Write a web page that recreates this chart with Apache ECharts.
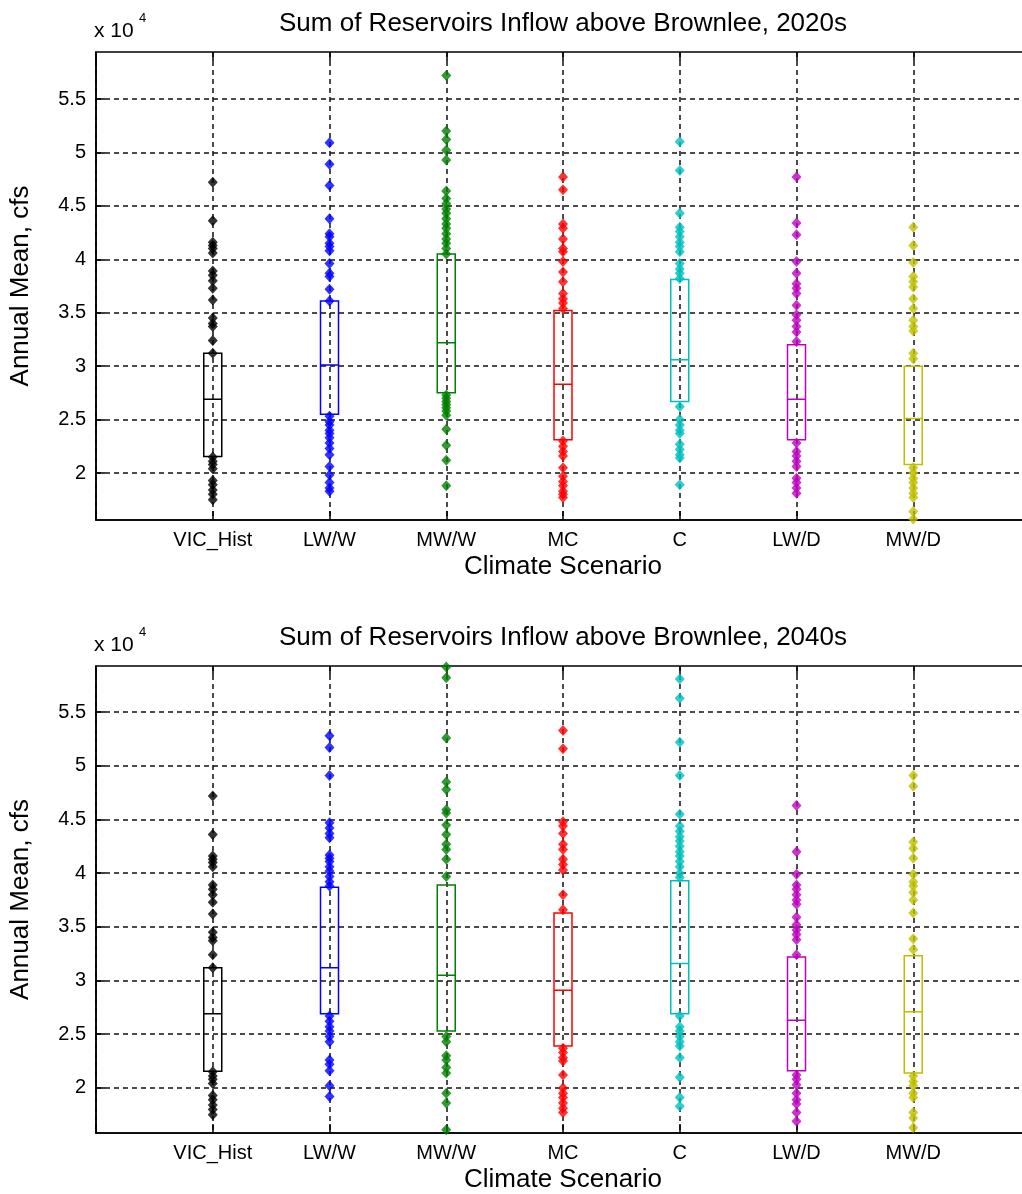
<!DOCTYPE html>
<html>
<head>
<meta charset="utf-8">
<script src="https://cdn.jsdelivr.net/npm/echarts@6/dist/echarts.min.js"></script>
<style>html,body{margin:0;padding:0;background:#fff}#c{width:1022px;height:1194px}</style>
</head>
<body>
<div id="c"></div>
<script>
// ---------- DATA (annual mean inflow, cfs) ----------
const categories = ['VIC_Hist', 'LW/W', 'MW/W', 'MC', 'C', 'LW/D', 'MW/D'];
const colors = ['#000000', '#0000FF', '#008000', '#FF0000', '#00BFBF', '#BF00BF', '#BFBF00'];
const titles = ['Sum of Reservoirs Inflow above Brownlee, 2020s', 'Sum of Reservoirs Inflow above Brownlee, 2040s'];

// box statistics: [Q1, median, Q3]
const box2020s = [
  [21550, 26900, 31200], [25500, 30100, 36100], [27500, 32200, 40500], [23100, 28300, 35200],
  [26700, 30600, 38100], [23100, 26900, 32000], [20800, 25100, 30000]
];
const box2040s = [
  [21550, 26900, 31200], [26900, 31200, 38700], [25300, 30500, 38900], [23900, 29100, 36300],
  [26900, 31600, 39300], [21600, 26300, 32200], [21400, 27100, 32300]
];

// points outside the box
const vicHist = [47200, 43600, 41600, 41300, 41000, 40600, 38900, 38500, 38000, 37300, 36200, 34500, 34000, 33700, 32400, 31200,
  21500, 21100, 20800, 20400, 19300, 18900, 18400, 18000, 17500];

const lww2020 = [50900, 48900, 46900, 43800, 42400, 42100, 41500, 41200, 40800, 39600, 38700, 38400, 37200, 36100,
  25300, 24800, 24500, 24000, 23700, 23300, 22800, 22300, 21700, 20600, 19800, 19100, 18600, 18300];
const mww2020 = [57200, 52000, 51200, 50200, 49300, 46400, 45700, 45200, 44700, 44300, 43800, 43300, 42900, 42400, 41900, 41500, 41000, 40500,
  27300, 27000, 26700, 26400, 26100, 25800, 25400, 24100, 22600, 21200, 18800];
const mc2020 = [47700, 46500, 43300, 42900, 41900, 41000, 40700, 39800, 38800, 37900, 36800, 36300, 35900, 35400,
  23000, 22500, 22000, 21600, 20500, 19700, 19200, 18800, 18300, 18000, 17700];
const c2020 = [51000, 48300, 44300, 43000, 42600, 42100, 41600, 41200, 40700, 39600, 39100, 38700, 38200,
  26200, 25000, 24500, 24000, 23700, 22700, 22200, 21700, 21400, 18900];
const lwd2020 = [47700, 43400, 42300, 39800, 38700, 37700, 37300, 36800, 35700, 34800, 34300, 33700, 33200, 32300,
  22800, 22000, 21600, 21100, 20600, 19500, 19100, 18600, 18100];
const mwd2020 = [43000, 41300, 39700, 38400, 37900, 37400, 36300, 35400, 34300, 33700, 33300, 31200, 30700,
  20500, 20000, 19500, 19100, 18600, 18100, 17700, 16400, 15700];

const lww2040 = [52800, 51700, 49100, 44700, 44200, 43700, 43300, 41700, 41400, 41100, 40600, 40200, 39700, 39200, 38800,
  26700, 26200, 25700, 25300, 24800, 24300, 22600, 22200, 21600, 20200, 19200];
const mww2040 = [59200, 58200, 52600, 48500, 47800, 45900, 45600, 44500, 43600, 42700, 42200, 41300, 39700,
  24800, 24300, 23000, 22600, 21900, 21400, 19500, 18600, 16100];
const mc2040 = [53300, 51600, 44800, 44400, 43700, 42700, 42200, 41300, 40800, 40300, 38000, 36600,
  23700, 23300, 22800, 22500, 21200, 20000, 19500, 19100, 18600, 18100, 17700];
const c2040 = [58100, 56300, 52200, 49100, 45500, 44400, 43900, 43400, 43000, 42500, 42000, 41600, 41100, 40600, 40000, 39600,
  26700, 25700, 25300, 24800, 24300, 23900, 22800, 21000, 19100, 18300];
const lwd2040 = [46300, 42000, 39900, 38900, 38500, 38000, 37500, 37100, 35900, 35200, 34700, 34300, 33800, 32400,
  21200, 20800, 20300, 19500, 18900, 18500, 17700, 16900];
const mwd2040 = [49100, 48100, 42900, 42300, 41400, 39900, 39200, 38800, 38200, 37500, 36300, 33900, 32900,
  21100, 20600, 20200, 19500, 19100, 17700, 17200, 16300];

const pts2020s = [vicHist, lww2020, mww2020, mc2020, c2020, lwd2020, mwd2020];
const pts2040s = [vicHist, lww2040, mww2040, mc2040, c2040, lwd2040, mwd2040];

// ---------- CHART ----------
const FONT = '"Liberation Sans", Arial, Helvetica, sans-serif';
const axisCategories = [''].concat(categories, ['']);
const panels = [
  { title: titles[0], box: box2020s, pts: pts2020s, top: 52, height: 468, yMin: 15600, yMax: 59400 },
  { title: titles[1], box: box2040s, pts: pts2040s, top: 666, height: 467, yMin: 15800, yMax: 59300 }
];

const dashed = { color: '#111', width: 1.5, type: [5, 4] };
const option = {
  animation: false,
  backgroundColor: '#fff',
  title: [], grid: [], xAxis: [], yAxis: [], series: [], graphic: []
};

panels.forEach((p, k) => {
  option.title.push({
    text: p.title, left: 558, top: p.top - 46, textAlign: 'center',
    textStyle: { fontFamily: FONT, fontSize: 26, fontWeight: 'normal', color: '#000' }
  });
  option.grid.push({
    left: 96, width: 934, top: p.top, height: p.height,
    outerBoundsMode: 'none', containLabel: false,
    show: true, borderColor: '#000', borderWidth: 1.5, backgroundColor: 'transparent'
  });
  option.xAxis.push({
    type: 'category', gridIndex: k, data: axisCategories, boundaryGap: false, position: 'bottom',
    axisLine: { lineStyle: { color: '#000', width: 1.5 } },
    axisTick: { inside: true, length: 9, interval: 0, lineStyle: { color: '#000', width: 1.5 } },
    axisLabel: { interval: 0, margin: 10, fontFamily: FONT, fontSize: 20, color: '#000' },
    splitLine: { show: true, interval: 0, lineStyle: dashed },
    name: 'Climate Scenario', nameLocation: 'middle', nameGap: 34,
    nameTextStyle: { fontFamily: FONT, fontSize: 26, color: '#000' }
  });
  option.xAxis.push({
    type: 'category', gridIndex: k, data: axisCategories, boundaryGap: false, position: 'top',
    axisLine: { show: false },
    axisTick: { inside: true, length: 9, interval: 0, lineStyle: { color: '#000', width: 1.5 } },
    axisLabel: { show: false }, splitLine: { show: false }
  });
  option.yAxis.push({
    type: 'value', gridIndex: k, min: p.yMin, max: p.yMax, splitNumber: 9,
    axisLine: { show: true, lineStyle: { color: '#000', width: 1.5 } },
    axisTick: { show: true, inside: true, length: 9, lineStyle: { color: '#000', width: 1.5 } },
    axisLabel: {
      showMinLabel: false, showMaxLabel: false, margin: 10,
      fontFamily: FONT, fontSize: 20, color: '#000',
      formatter: v => String(Math.round(v / 1000) / 10)
    },
    splitLine: { show: true, showMinLine: false, showMaxLine: false, lineStyle: dashed },
    name: 'Annual Mean, cfs', nameLocation: 'middle', nameGap: 62,
    nameTextStyle: { fontFamily: FONT, fontSize: 26, color: '#000' }
  });

  // boxes (no whiskers: min = Q1, max = Q3); slot 0 is the empty left margin category
  const boxData = [{ value: ['-', '-', '-', '-', '-'], itemStyle: { opacity: 0 } }].concat(
    p.box.map((b, i) => ({
      value: [b[0], b[0], b[1], b[2], b[2]],
      itemStyle: { color: 'rgba(0,0,0,0)', borderColor: colors[i], borderWidth: 1.5 }
    })));
  option.series.push({
    type: 'boxplot', xAxisIndex: 2 * k, yAxisIndex: k, boxWidth: [18, 18], z: 3,
    data: boxData,
    emphasis: { disabled: true }
  });
  // points
  p.pts.forEach((arr, i) => {
    option.series.push({
      type: 'scatter', xAxisIndex: 2 * k, yAxisIndex: k, z: 4,
      symbol: 'diamond', symbolSize: [10, 11],
      itemStyle: { color: colors[i] },
      data: arr.map(v => [i + 1, v])
    });
  });

  // exponent label "x 10^4"
  option.graphic.push({
    type: 'text', left: 94, top: p.top - 31,
    style: { text: 'x 10', font: '21px ' + FONT, fill: '#000' }
  });
  option.graphic.push({
    type: 'text', left: 139, top: p.top - 40,
    style: { text: '4', font: '13px ' + FONT, fill: '#000' }
  });
});

const chart = echarts.init(document.getElementById('c'));
chart.setOption(option);
</script>
</body>
</html>
